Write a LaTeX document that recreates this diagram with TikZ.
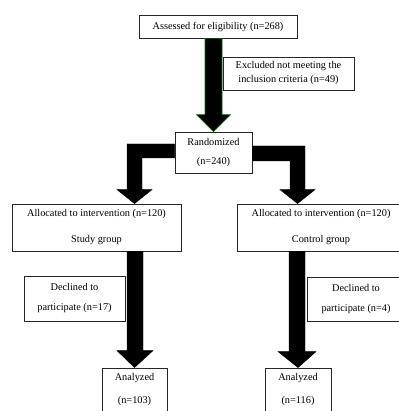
\documentclass[tikz,border=0pt]{standalone}
\usepackage{fontspec}
\setmainfont{Liberation Serif}
\usetikzlibrary{calc}
\begin{document}
\begin{tikzpicture}[x=1pt,y=-1pt,
  box/.style={draw=black!85, line width=0.8pt, inner sep=0pt, align=center,
    font=\fontsize{10.3}{11}\selectfont},
  blockarrow/.style={fill=black, draw=black, line width=0.4pt, line join=miter}]
\useasboundingbox (0,0) rectangle (398,411);
% boxes
\node[box, minimum width=158pt, minimum height=23pt] (top) at (218,26.5) {Assessed for eligibility (n=268)};
\node[box, minimum width=131pt, minimum height=33pt] (excl) at (288.5,73.5) {Excluded not meeting the\\[3pt]inclusion criteria (n=49)};
\node[box, minimum width=77pt, minimum height=41pt] (rand) at (213.5,152.5) {Randomized\\[8pt](n=240)};
\node[box, minimum width=169pt, minimum height=47pt] (allocL) at (96.5,227.5) {Allocated to intervention (n=120)\\[15pt]Study group};
\node[box, minimum width=168pt, minimum height=47pt] (allocR) at (321,227.5) {Allocated to intervention (n=120)\\[15pt]Control group};
\node[box, minimum width=101pt, minimum height=45pt] (declL) at (74.5,298.5) {Declined to\\[9pt]participate (n=17)};
\node[box, minimum width=98pt, minimum height=44pt] (declR) at (356,299) {Declined to\\[9pt]participate (n=4)};
\node[box, minimum width=65pt, minimum height=44pt] (anaL) at (134.5,390) {Analyzed\\[12pt](n=103)};
\node[box, minimum width=66pt, minimum height=44pt] (anaR) at (298,390) {Analyzed\\[12pt](n=116)};
% block arrows
\path[blockarrow, draw=green!45!black, line width=0.6pt] let \p1=(top.south), \p2=(rand.north) in
  (\x2-8.5pt,\y1) -- (\x2+8.5pt,\y1) -- (\x2+8.5pt,\y2+17pt) -- (\x2+17pt,\y2+17pt)
  -- (\x2,\y2) -- (\x2-17pt,\y2+17pt) -- (\x2-8.5pt,\y2+17pt) -- cycle;
\path[blockarrow] let \p1=(rand.west), \p2=(allocL.north) in
  (\x1,\y1+8.5pt) -- (127pt,\y1+8.5pt) -- (127pt,\y2+14pt) -- (117pt,\y2+14pt)
  -- (134.5pt,\y2) -- (152pt,\y2+14pt) -- (142pt,\y2+14pt) -- (142pt,\y1-5.5pt)
  -- (\x1,\y1-5.5pt) -- cycle;
\path[blockarrow] let \p1=(rand.east), \p2=(allocR.north) in
  (\x1,\y1+6.5pt) -- (305pt,\y1+6.5pt) -- (305pt,\y2+14pt) -- (315pt,\y2+14pt)
  -- (297.5pt,\y2) -- (280pt,\y2+14pt) -- (290pt,\y2+14pt) -- (290pt,\y1-8.5pt)
  -- (\x1,\y1-8.5pt) -- cycle;
\path[blockarrow] let \p1=(allocL.south), \p2=(anaL.north) in
  (127pt,\y1) -- (143pt,\y1) -- (143pt,\y2+17pt) -- (153pt,\y2+17pt)
  -- (\x2,\y2) -- (117pt,\y2+17pt) -- (127pt,\y2+17pt) -- cycle;
\path[blockarrow] let \p1=(allocR.south), \p2=(anaR.north) in
  (289pt,\y1) -- (305pt,\y1) -- (305pt,\y2+16pt) -- (316pt,\y2+16pt)
  -- (\x2,\y2) -- (278pt,\y2+16pt) -- (289pt,\y2+16pt) -- cycle;
\end{tikzpicture}
\end{document}
